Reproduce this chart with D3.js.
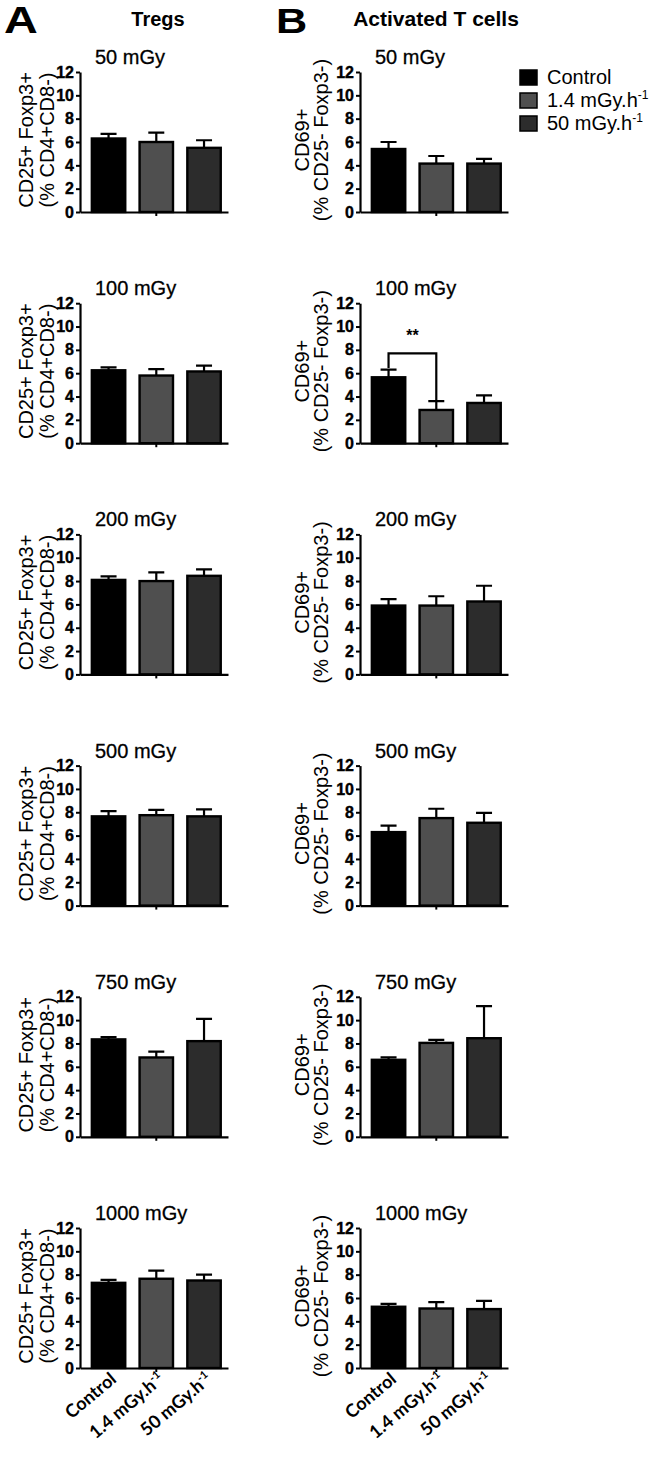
<!DOCTYPE html>
<html>
<head>
<meta charset="utf-8">
<script src="https://cdn.jsdelivr.net/npm/d3@7"></script>
<style>
  body { margin: 0; background: #fff; }
  svg text { font-family: "Liberation Sans", Arial, sans-serif; fill: #000; }
</style>
</head>
<body>
<svg id="chart" width="660" height="1461"></svg>
<script>
// doses (one row each) and treatment groups
const doses = ["50 mGy", "100 mGy", "200 mGy", "500 mGy", "750 mGy", "1000 mGy"]
const groups = ["Control", "1.4 mGy.h-1", "50 mGy.h-1"]
const yTicks = [0, 2, 4, 6, 8, 10, 12]

// Tregs: CD25+ Foxp3+ (% CD4+CD8-), mean and SEM per dose
const tregMean = [[6.3, 6.0, 5.5], [6.25, 5.8, 6.15], [8.1, 8.0, 8.45], [7.65, 7.75, 7.65], [8.35, 6.8, 8.2], [7.3, 7.65, 7.5]]
const tregErr  = [[0.4, 0.8, 0.65], [0.25, 0.55, 0.5], [0.3, 0.75, 0.55], [0.45, 0.45, 0.6], [0.2, 0.5, 1.9], [0.25, 0.7, 0.5]]

// activated T cells: CD69+ (% CD25- Foxp3-)
const actMean = [[5.4, 4.15, 4.15], [5.65, 2.85, 3.45], [5.9, 5.9, 6.25], [6.3, 7.5, 7.1], [6.6, 8.05, 8.45], [5.25, 5.1, 5.05]]
const actErr  = [[0.6, 0.65, 0.4], [0.65, 0.75, 0.65], [0.55, 0.8, 1.35], [0.55, 0.8, 0.85], [0.2, 0.25, 2.75], [0.25, 0.55, 0.7]]

// significance: 100 mGy, activated T cells, Control vs 1.4 mGy.h-1
const sigRow = 1
const sigPair = [0, 1]
const sigLevel = 7.7
const sigLegs = [6.45, 3.6]
const sigLabel = "**"

const fills = ["#000000", "#4f4f4f", "#2c2c2c"]

var svg = d3.select("#chart")

var colX = [80, 360]
var plotW = 148, plotH = 140

var x = d3.scaleBand()
    .domain(groups)
    .range([0, plotW])
    .paddingInner(0.3)
    .paddingOuter(0.2)
    .align(0.62)

var y = d3.scaleLinear().domain([0, 12]).range([plotH, 0])

function rowTop(i) { return 212 + i * 231.2 - plotH }

var panels = [
  { mean: tregMean, err: tregErr, lab: ["CD25+ Foxp3+", "(% CD4+CD8-)"], labX: [33, 54] },
  { mean: actMean, err: actErr, lab: ["CD69+", "(% CD25- Foxp3-)"], labX: [309, 328] }
]

// header letters and column titles
svg.append("text").attr("transform", "translate(4,33) scale(1.3,1)")
    .style("font-size", "36px").style("font-weight", "bold").text("A")
svg.append("text").attr("transform", "translate(276,33) scale(1.2,1)")
    .style("font-size", "36px").style("font-weight", "bold").text("B")
svg.append("text").attr("x", 158).attr("y", 26).attr("text-anchor", "middle")
    .style("font-size", "20px").style("font-weight", "bold").text("Tregs")
svg.append("text").attr("x", 436).attr("y", 26).attr("text-anchor", "middle")
    .style("font-size", "21px").style("font-weight", "bold").text("Activated T cells")

function addSup(sel, txt, sfs, dy) {
  var m = txt.match(/^(.*h)(-1)$/)
  if (!m) { sel.text(txt); return }
  sel.append("tspan").text(m[1])
  sel.append("tspan").attr("dy", -dy).style("font-size", sfs + "px").text(m[2])
}

panels.forEach(function(p, c) {
  doses.forEach(function(dose, i) {
    var g = svg.append("g")
        .attr("transform", "translate(" + colX[c] + "," + rowTop(i) + ")")

    // dose title
    g.append("text").attr("x", 15).attr("y", -8)
        .style("font-size", "20px").attr("stroke", "#000").attr("stroke-width", 0.3)
        .text(dose)

    // y label, two lines
    p.lab.forEach(function(t, k) {
      svg.append("text")
          .attr("transform", "translate(" + p.labX[k] + "," + (rowTop(i) + 68) + ") rotate(-90)")
          .attr("text-anchor", "middle")
          .style("font-size", "20px")
          .text(t)
    })

    var vals = groups.map(function(gr, j) { return { g: gr, j: j, m: p.mean[i][j], e: p.err[i][j] } })

    // error bars (upper only)
    g.selectAll(".err").data(vals).enter().append("path")
        .attr("d", function(d) {
          var cx = x(d.g) + x.bandwidth() / 2
          return "M" + cx + "," + y(d.m) + "V" + y(d.m + d.e) + "M" + (cx - 8) + "," + y(d.m + d.e) + "H" + (cx + 8)
        })
        .attr("stroke", "#000").attr("stroke-width", 2.2).attr("fill", "none")

    g.selectAll(".bar").data(vals).enter().append("rect")
        .attr("x", function(d) { return x(d.g) })
        .attr("y", function(d) { return y(d.m) })
        .attr("width", x.bandwidth())
        .attr("height", function(d) { return plotH - y(d.m) })
        .attr("fill", function(d) { return fills[d.j] })
        .attr("stroke", "#000").attr("stroke-width", 2.4)

    var ya = g.append("g").call(d3.axisLeft(y).tickValues(yTicks).tickSize(4).tickSizeOuter(0).tickPadding(2))
    ya.attr("font-size", 16)
    ya.selectAll("text").style("font-size", "16px").style("font-weight", "bold")
        .style("font-family", "'Liberation Sans', Arial, sans-serif")
        .attr("stroke", "#000").attr("stroke-width", 0.4)
    ya.select(".domain").attr("stroke-width", 2.2)
    ya.selectAll(".tick line").attr("stroke-width", 2)

    var xa = g.append("g").attr("transform", "translate(0," + plotH + ")")
        .call(d3.axisBottom(x).tickValues([groups[1]]).tickSize(4).tickSizeOuter(0).tickFormat(""))
    xa.select(".domain").attr("stroke-width", 2.2)
    xa.selectAll(".tick line").attr("stroke-width", 2)

    if (c === 1 && i === sigRow) {
      var x1 = x(groups[sigPair[0]]) + x.bandwidth() / 2
      var x2 = x(groups[sigPair[1]]) + x.bandwidth() / 2
      g.append("path")
          .attr("d", "M" + x1 + "," + y(sigLegs[0]) + "V" + y(sigLevel) + "H" + x2 + "V" + y(sigLegs[1]))
          .attr("stroke", "#000").attr("stroke-width", 2.2).attr("fill", "none")
      g.append("text").attr("x", (x1 + x2) / 2).attr("y", y(9.3) + 6)
          .attr("text-anchor", "middle").style("font-size", "16px").style("font-weight", "bold")
          .text(sigLabel)
    }

    // category labels under the last row
    if (i === doses.length - 1) {
      groups.forEach(function(gr) {
        var t = g.append("text")
            .attr("transform", "translate(" + (x(gr) + x.bandwidth() / 2 + 9) + "," + (plotH + 13) + ") rotate(-40)")
            .attr("text-anchor", "end")
            .style("font-family", "Lato, 'Open Sans', sans-serif")
            .style("font-weight", "bold")
            .style("font-size", "18px")
        addSup(t, gr, 11, 7)
      })
    }
  })
})

// legend
var leg = svg.append("g").attr("transform", "translate(520,70)")
groups.forEach(function(gr, j) {
  var r = leg.append("g").attr("transform", "translate(0," + (j * 23) + ")")
  r.append("rect").attr("width", 17).attr("height", 15)
      .attr("fill", fills[j]).attr("stroke", "#000").attr("stroke-width", 1.5)
  var t = r.append("text").attr("x", 27).attr("y", 14).style("font-size", "20px")
  addSup(t, gr, 12, 8)
})
</script>
</body>
</html>
